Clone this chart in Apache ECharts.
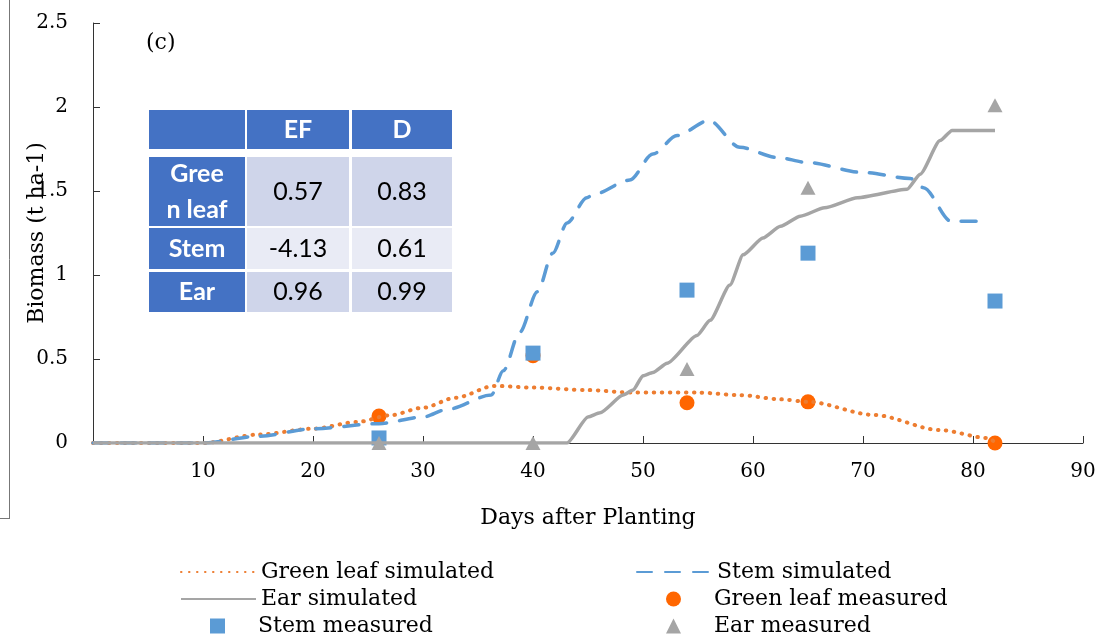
<!DOCTYPE html>
<html><head><meta charset="utf-8">
<script src="https://cdn.jsdelivr.net/npm/echarts@6/dist/echarts.min.js"></script>
<style>html,body{margin:0;padding:0;background:#fff}#c{width:1107px;height:642px}</style>
</head><body><div id="c"></div>
<script>
// ---- data ----
const greenLeafSim = [[0,0],[10,0],[15,0.05],[20,0.085],[24,0.125],[27,0.165],[30,0.21],[33,0.27],[36.5,0.34],[40,0.33],[45,0.315],[49,0.30],[55,0.30],[58.8,0.285],[62.5,0.26],[65,0.245],[71,0.167],[77,0.077],[81.3,0.03],[82,0.005]];
const stemSim = [[0,0],[10,0],[15,0.04],[20,0.085],[26,0.115],[30,0.155],[32.2,0.2],[36.2,0.285],[37.3,0.43],[38.8,0.66],[40.4,0.9],[41.8,1.13],[43.1,1.31],[44.9,1.46],[45.5,1.48],[48.8,1.565],[50.9,1.72],[53.1,1.83],[56,1.92],[58.8,1.76],[62.2,1.70],[64.9,1.67],[70,1.61],[74.3,1.575],[75.5,1.52],[78,1.32],[81,1.32]];
const earSim = [[0,0],[43.1,0],[45,0.155],[46.1,0.18],[48.2,0.285],[49.1,0.315],[50,0.40],[50.9,0.42],[52.2,0.475],[54.9,0.64],[56.1,0.73],[57.9,0.94],[59.1,1.12],[60.9,1.22],[62.5,1.29],[64.3,1.35],[66.5,1.40],[69.5,1.46],[74,1.51],[75.2,1.60],[77,1.80],[78.1,1.86],[82,1.86]];
const measDays = [26,40,54,65,82];
const greenLeafMeas = [0.16,0.52,0.24,0.245,0.0];
const stemMeas = [0.03,0.535,0.91,1.13,0.845];
const earMeas = [0.0,0.0,0.44,1.52,2.01];
const xTicks = [10,20,30,40,50,60,70,80,90];
const tableHead = ['', 'EF', 'D'];
const tableRows = ['Gree\nn leaf','Stem','Ear'];
const tableEF = ['0.57','-4.13','0.96'];
const tableD = ['0.83','0.61','0.99'];

const serif = 'DejaVu Serif';
const sans = 'Lato';
const pair = (xs, ys) => xs.map((x,i)=>[x, ys[i]]);

// table graphic
const colX = [149, 247, 352], colW = [96, 102, 100];
const rowY = [157, 228, 272], rowH = [69, 41, 40];
const graphic = [
  {type:'line', shape:{x1:9.5,y1:0,x2:9.5,y2:519}, style:{stroke:'#777',lineWidth:1}},
  {type:'line', shape:{x1:0,y1:518.5,x2:10,y2:518.5}, style:{stroke:'#777',lineWidth:1}},
  {type:'text', left:146, top:32, style:{text:'(c)', font:'22px "'+serif+'"', fill:'#000'}}
];
tableHead.forEach((h,i)=>{
  graphic.push({type:'rect', shape:{x:colX[i],y:110,width:colW[i],height:39}, style:{fill:'#4472C4'}});
  if(h) graphic.push({type:'text', x:colX[i]+colW[i]/2, y:130, style:{text:h, font:'bold 25px '+sans, fill:'#fff', align:'center', verticalAlign:'middle'}});
});
tableRows.forEach((r,j)=>{
  const bg = j===1 ? '#E9EBF5' : '#CFD5EA';
  const cy = rowY[j]+rowH[j]/2;
  graphic.push({type:'rect', shape:{x:colX[0],y:rowY[j],width:colW[0],height:rowH[j]}, style:{fill:'#4472C4'}});
  graphic.push({type:'text', x:colX[0]+colW[0]/2, y:cy, style:{text:r, font:'bold 25px '+sans, lineHeight:36, fill:'#fff', align:'center', verticalAlign:'middle'}});
  [tableEF[j], tableD[j]].forEach((v,k)=>{
    graphic.push({type:'rect', shape:{x:colX[k+1],y:rowY[j],width:colW[k+1],height:rowH[j]}, style:{fill:bg}});
    graphic.push({type:'text', x:colX[k+1]+colW[k+1]/2, y:cy, style:{text:v, font:'25px '+sans, fill:'#000', align:'center', verticalAlign:'middle'}});
  });
});

function lg(name, left, top, sym){
  const o = {data:[name], left:left, top:top, itemWidth:75, itemHeight:14, padding:0,
    itemStyle:{opacity:0},
    textStyle:{fontFamily:serif, fontSize:22, color:'#000'}, selectedMode:false};
  if(sym){ o.itemWidth = 15; o.itemHeight = 15; o.left = left + 30; o.itemStyle = {}; o.textStyle.padding=[0,0,0,28]; }
  return o;
}

const option = {
  animation:false,
  grid:{left:93, right:24, top:23, bottom:199, outerBoundsMode:'none', containLabel:false},
  xAxis:{type:'value', min:0, max:90, interval:10,
    name:'Days after Planting', nameLocation:'middle', nameGap:64, nameMoveOverlap:false,
    nameTextStyle:{fontFamily:serif, fontSize:22, color:'#000'},
    axisLine:{lineStyle:{color:'#333', width:1}},
    axisTick:{inside:true, length:7, lineStyle:{color:'#333'}},
    axisLabel:{fontFamily:serif, fontSize:20, color:'#000', margin:19, formatter:v=> xTicks.includes(v)? String(v):''},
    splitLine:{show:false}},
  yAxis:{type:'value', min:0, max:2.5, interval:0.5,
    name:'Biomass (t ha-1)', nameLocation:'middle', nameGap:45, nameMoveOverlap:false,
    nameTextStyle:{fontFamily:serif, fontSize:22, color:'#000'},
    axisLine:{show:true, lineStyle:{color:'#333', width:1}},
    axisTick:{show:true, inside:true, length:7, lineStyle:{color:'#333'}},
    axisLabel:{fontFamily:serif, fontSize:20, color:'#000', margin:25},
    splitLine:{show:false}},
  legend:[
    lg('Green leaf simulated',180,561),
    lg('Stem simulated',636,561),
    lg('Ear simulated',180,588),
    lg('Green leaf measured',636,588,true),
    lg('Stem measured',180,615,true),
    lg('Ear measured',636,615,true)
  ],
  graphic: graphic,
  series:[
    {name:'Green leaf simulated', type:'line', data:greenLeafSim, symbol:'none', smooth:0.3, smoothMonotone:'x',
      lineStyle:{color:'#ED7D31', width:4, type:[0.5,7.5], cap:'round'}, itemStyle:{color:'#ED7D31'}},
    {name:'Stem simulated', type:'line', data:stemSim, symbol:'none', smooth:0.3, smoothMonotone:'x',
      lineStyle:{color:'#5B9BD5', width:3.5, type:[15,13], cap:'round'}, itemStyle:{color:'#5B9BD5'}},
    {name:'Ear simulated', type:'line', data:earSim, symbol:'none', smooth:0.2, smoothMonotone:'x',
      lineStyle:{color:'#A5A5A5', width:3.5}, itemStyle:{color:'#A5A5A5'}},
    {name:'Green leaf measured', type:'scatter', data:pair(measDays, greenLeafMeas), symbol:'circle', symbolSize:15,
      itemStyle:{color:'#FF6600', opacity:1}},
    {name:'Stem measured', type:'scatter', data:pair(measDays, stemMeas), symbol:'rect', symbolSize:15,
      itemStyle:{color:'#5B9BD5', opacity:1}},
    {name:'Ear measured', type:'scatter', data:pair(measDays, earMeas), symbol:'triangle', symbolSize:[15,14],
      itemStyle:{color:'#A5A5A5', opacity:1}}
  ]
};
const chart = echarts.init(document.getElementById('c'));
chart.setOption(option);
</script></body></html>
